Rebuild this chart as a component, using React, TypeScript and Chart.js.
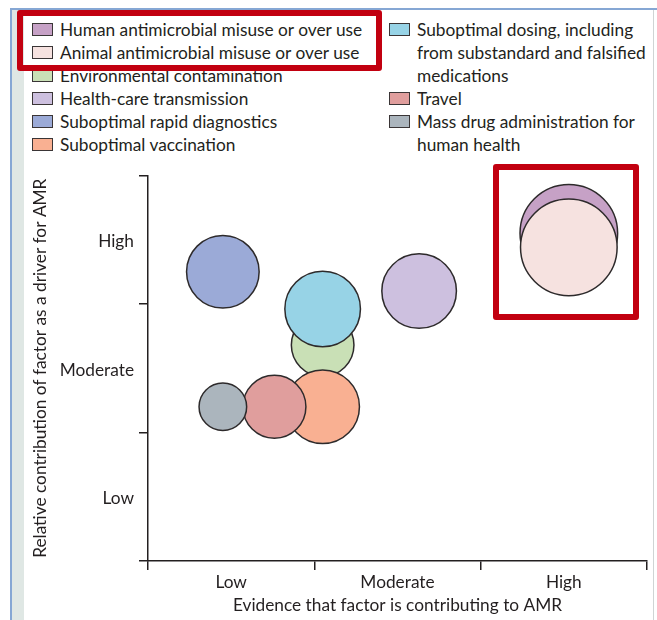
import React, { useEffect, useRef } from "react";
import { Chart, registerables } from "chart.js";

Chart.register(...registerables);

// ---- data ----
const factors = [
  "Human antimicrobial misuse or over use",
  "Animal antimicrobial misuse or over use",
  "Environmental contamination",
  "Health-care transmission",
  "Suboptimal rapid diagnostics",
  "Suboptimal vaccination",
  "Suboptimal dosing, including from substandard and falsified medications",
  "Travel",
  "Mass drug administration for human health",
];
// evidence that factor is contributing to AMR (0..3 : Low | Moderate | High)
const evidence = [2.53, 2.53, 1.05, 1.63, 0.45, 1.05, 1.05, 0.76, 0.45];
// relative contribution of factor as a driver for AMR (0..3 : Low | Moderate | High)
const contribution = [2.55, 2.44, 1.68, 2.1, 2.25, 1.2, 1.96, 1.2, 1.2];
// bubble size (px radius)
const bubbleSize = [48.8, 48.3, 31.3, 37.3, 36.3, 36.8, 37.8, 31.5, 23.8];
const levelLabels = ["Low", "Moderate", "High"];
const seriesColors = [
  "#c6a1c6",
  "#f6e2e0",
  "#c9e0b6",
  "#cdc0df",
  "#9baad7",
  "#f9b092",
  "#97d3e6",
  "#e09e9d",
  "#abb5bd",
];

const xTitle = "Evidence that factor is contributing to AMR";
const yTitle = "Relative contribution of factor as a driver for AMR";

const INK = "#231f20";
const FONT = "Lato";
const FS = 17.3;

function tickLabel(v: number): string {
  const r = Math.round(v);
  if (Math.abs(v - r) < 0.1) return "";
  return levelLabels[Math.floor(v)] ?? "";
}

function Swatch({ color }: { color: string }) {
  return (
    <span
      style={{
        display: "inline-block",
        boxSizing: "border-box",
        width: 21,
        height: 13,
        marginTop: 5,
        marginRight: 7,
        flex: "0 0 auto",
        background: color,
        border: "1.5px solid #3a3536",
      }}
    />
  );
}

function LegendItem({ i, width }: { i: number; width: number }) {
  return (
    <div style={{ display: "flex", alignItems: "flex-start" }}>
      <Swatch color={seriesColors[i]} />
      <span style={{ width, display: "block" }}>{factors[i]}</span>
    </div>
  );
}

export default function App() {
  const canvasRef = useRef<HTMLCanvasElement | null>(null);

  useEffect(() => {
    if (!canvasRef.current) return;
    // lower number = drawn on top
    const drawOrder = [2, 1, 5, 1, 1, 3, 1, 2, 1];
    const tickColor = (c: any) =>
      c.tick && Number.isInteger(c.tick.value) ? INK : "rgba(0,0,0,0)";
    const halfSteps = [0, 0.5, 1, 1.5, 2, 2.5, 3];
    const chart = new Chart(canvasRef.current, {
      type: "bubble",
      data: {
        datasets: factors.map((f, i) => ({
          label: f,
          data: [{ x: evidence[i], y: contribution[i], r: bubbleSize[i] }],
          backgroundColor: seriesColors[i],
          borderColor: "#2d2a2b",
          borderWidth: 1.5,
          hoverBorderWidth: 1.5,
          order: drawOrder[i],
          clip: false as any,
        })),
      },
      options: {
        responsive: false,
        animation: false,
        devicePixelRatio: 1,
        events: [],
        layout: { padding: { top: 15, right: 6, left: 0, bottom: 0 }, autoPadding: false },
        plugins: { legend: { display: false }, tooltip: { enabled: false } },
        scales: {
          x: {
            type: "linear",
            min: 0,
            max: 3,
            afterFit: (s: any) => {
              s.height = 59;
            },
            afterBuildTicks: (s: any) => {
              s.ticks = halfSteps.map((v) => ({ value: v }));
            },
            ticks: {
              autoSkip: false,
              maxRotation: 0,
              padding: 2,
              color: INK,
              font: { family: FONT, size: FS },
              callback: (v: any) => tickLabel(Number(v)),
            },
            grid: {
              drawOnChartArea: false,
              tickLength: 9,
              lineWidth: 1.5,
              color: tickColor,
            },
            border: { display: true, color: INK, width: 1.5 },
            title: {
              display: true,
              text: xTitle,
              color: INK,
              font: { family: FONT, size: FS },
              padding: { top: 0, bottom: 4 },
            },
          },
          y: {
            type: "linear",
            min: 0,
            max: 3,
            afterFit: (s: any) => {
              s.width = 124;
            },
            afterBuildTicks: (s: any) => {
              s.ticks = halfSteps.map((v) => ({ value: v }));
            },
            ticks: {
              autoSkip: false,
              padding: 5,
              labelOffset: 2,
              color: INK,
              font: { family: FONT, size: FS },
              callback: (v: any) => tickLabel(Number(v)),
            },
            grid: {
              drawOnChartArea: false,
              tickLength: 9,
              lineWidth: 1.5,
              color: tickColor,
            },
            border: { display: true, color: INK, width: 1.5 },
            title: {
              display: true,
              text: yTitle,
              color: INK,
              font: { family: FONT, size: FS },
              padding: { top: 6, bottom: 0 },
            },
          },
        },
      },
    });
    return () => chart.destroy();
  }, []);

  const leftCol = [0, 1, 2, 3, 4, 5];
  const rightCol = [6, 7, 8];

  return (
    <div
      style={{
        position: "absolute",
        left: 0,
        top: 0,
        width: 657,
        height: 620,
        overflow: "hidden",
        background: "#ffffff",
        fontFamily: FONT,
        color: INK,
      }}
    >
      {/* panel frame */}
      <div style={{ position: "absolute", left: 10, top: 8, width: 647, height: 2, background: "#86a7d4" }} />
      <div style={{ position: "absolute", left: 10, top: 8, width: 2, height: 612, background: "#86a7d4" }} />
      <div style={{ position: "absolute", left: 12, top: 10, width: 12, height: 610, background: "#dfe7e4" }} />
      <div style={{ position: "absolute", left: 653, top: 10, width: 1, height: 610, background: "#cfd4d4" }} />

      {/* legend */}
      <div style={{ position: "absolute", left: 32, top: 18, fontSize: FS, lineHeight: "23px" }}>
        {leftCol.map((i) => (
          <LegendItem key={i} i={i} width={330} />
        ))}
      </div>
      <div style={{ position: "absolute", left: 389, top: 18, fontSize: FS, lineHeight: "23px" }}>
        {rightCol.map((i) => (
          <LegendItem key={i} i={i} width={238} />
        ))}
      </div>

      {/* chart */}
      <canvas
        ref={canvasRef}
        width={629}
        height={460}
        style={{ position: "absolute", left: 24, top: 160, width: 629, height: 460 }}
      />

      {/* highlight boxes */}
      <div
        style={{
          position: "absolute",
          left: 17,
          top: 10,
          width: 365,
          height: 61,
          boxSizing: "border-box",
          border: "6px solid #c20010",
          borderRadius: 3,
        }}
      />
      <div
        style={{
          position: "absolute",
          left: 493,
          top: 164,
          width: 146,
          height: 156,
          boxSizing: "border-box",
          border: "6px solid #c20010",
          borderRadius: 3,
        }}
      />
    </div>
  );
}
